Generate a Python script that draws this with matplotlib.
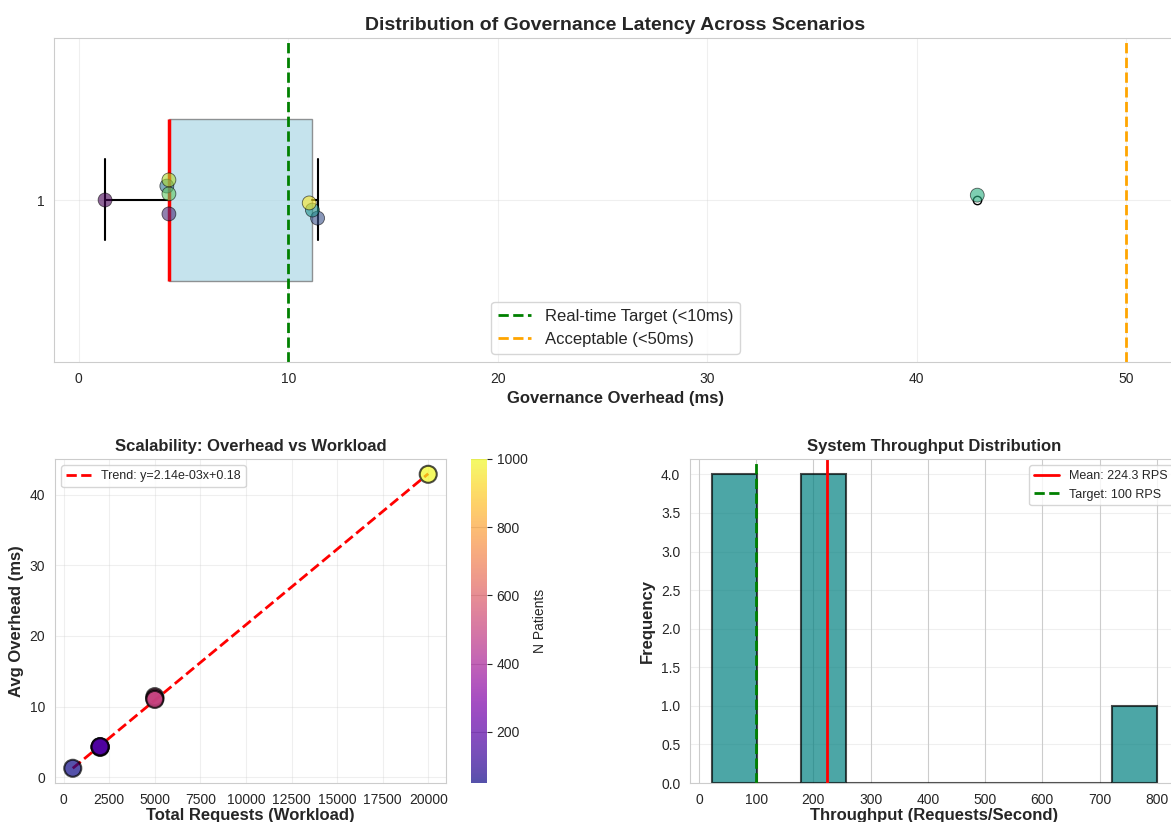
import numpy as np
import matplotlib
matplotlib.use("Agg")
import matplotlib.pyplot as plt
import seaborn as sns

# scenario data
overhead_ms = [1.25, 4.3, 11.4, 4.2, 11.15, 42.9, 4.3, 4.3, 11.0]
total_requests = [500, 2000, 5000, 2000, 5000, 20000, 2000, 2000, 5000]
n_patients = [50, 100, 500, 200, 500, 1000, 100, 200, 500]
throughput_rps = [800, 229.9, 87.7, 233.1, 89.7, 23.3, 232.6, 232.6, 89.8]
jitter = [0.0, -0.043, -0.056, 0.043, -0.031, 0.015, 0.019, 0.062, -0.009]

trend_slope = 2.14e-03
trend_intercept = 0.18
realtime_target = 10
acceptable_limit = 50
throughput_target = 100

sns.set_style("whitegrid")
plt.rcParams['font.family'] = ['Liberation Sans', 'DejaVu Sans']

fig = plt.figure(figsize=(11.71, 8.22), dpi=100)
W, H = 1171, 822

def px_axes(x0, y0, x1, y1):
    return fig.add_axes([x0 / W, 1 - y1 / H, (x1 - x0) / W, (y1 - y0) / H])

ax1 = px_axes(54, 38, 1177, 362)
ax2 = px_axes(55, 459, 446, 783)
cax = px_axes(471, 459, 487, 783)
ax3 = px_axes(690, 459, 1179, 783)

# ---- top: box plot of overhead
bp = ax1.boxplot(overhead_ms, vert=False, patch_artist=True, widths=0.5,
                 medianprops=dict(color='red', linewidth=2.5),
                 whiskerprops=dict(linewidth=1.5), capprops=dict(linewidth=1.5))
for patch in bp['boxes']:
    patch.set_facecolor('lightblue')
    patch.set_edgecolor('dimgray')
    patch.set_alpha(0.7)
colors = plt.cm.viridis(np.linspace(0, 1, len(overhead_ms)))
ax1.scatter(overhead_ms, 1 + np.array(jitter), c=colors, s=100, alpha=0.6,
            edgecolors='black', linewidths=0.6, zorder=3)
ax1.axvline(realtime_target, color='green', linestyle='--', linewidth=2,
            label='Real-time Target (<10ms)')
ax1.axvline(acceptable_limit, color='orange', linestyle='--', linewidth=2,
            label='Acceptable (<50ms)')
ax1.set_xlabel('Governance Overhead (ms)', fontsize=12, fontweight='bold')
ax1.set_title('Distribution of Governance Latency Across Scenarios',
              fontsize=14, fontweight='bold')
ax1.legend(loc='lower center', fontsize=12)
ax1.grid(True, alpha=0.3)

# ---- bottom left: scalability scatter
sc = ax2.scatter(total_requests, overhead_ms, c=n_patients, cmap='plasma',
                 s=150, alpha=0.7, edgecolors='black', linewidths=1.5, zorder=3)
x_sorted = np.sort(total_requests)
ax2.plot(x_sorted, trend_slope * x_sorted + trend_intercept, 'r--', linewidth=2,
         label=f'Trend: y={trend_slope:.2e}x+{trend_intercept:.2f}')
ax2.set_xlabel('Total Requests (Workload)', fontsize=12, fontweight='bold', labelpad=1)
ax2.set_ylabel('Avg Overhead (ms)', fontsize=12, fontweight='bold')
ax2.set_title('Scalability: Overhead vs Workload', fontsize=12, fontweight='bold')
ax2.legend(loc='upper left', fontsize=9)
ax2.grid(True, alpha=0.3)
cb = fig.colorbar(sc, cax=cax)
cb.set_label('N Patients')
cb.outline.set_visible(False)

# ---- bottom right: throughput histogram
ax3.hist(throughput_rps, bins=10, color='teal', alpha=0.7,
         edgecolor='black', linewidth=1.5)
mean_rps = np.mean(throughput_rps)
ax3.axvline(mean_rps, color='red', linewidth=2, label=f'Mean: {mean_rps:.1f} RPS')
ax3.axvline(throughput_target, color='green', linestyle='--', linewidth=2,
            label=f'Target: {throughput_target} RPS')
ax3.set_xlabel('Throughput (Requests/Second)', fontsize=12, fontweight='bold', labelpad=1)
ax3.set_ylabel('Frequency', fontsize=12, fontweight='bold')
ax3.set_title('System Throughput Distribution', fontsize=12, fontweight='bold')
ax3.legend(loc='upper right', fontsize=9)
ax3.grid(True, alpha=0.3, axis='y')

fig.savefig('out.png', dpi=100)
